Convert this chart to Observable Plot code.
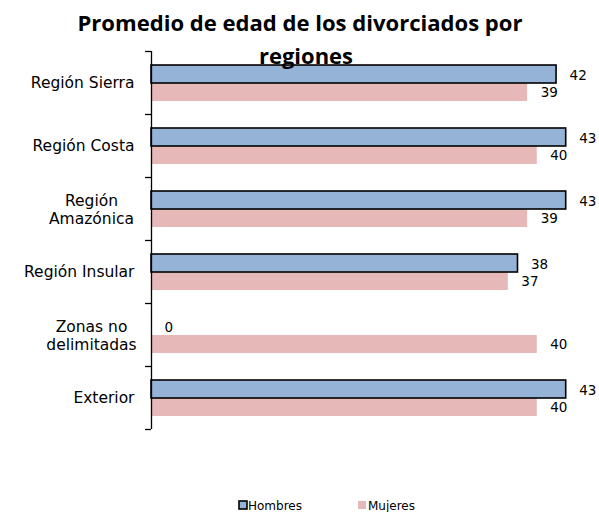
<!DOCTYPE html>
<html>
<head>
<meta charset="utf-8">
<script src="https://cdn.jsdelivr.net/npm/d3@7"></script>
<script src="https://cdn.jsdelivr.net/npm/@observablehq/plot@0.6"></script>
<style>
  html, body { margin: 0; padding: 0; background: #fff; }
  #chart { width: 599px; height: 512px; }
</style>
</head>
<body>
<div id="chart"></div>
<script>
const titleLines = ["Promedio de edad de los divorciados por", "regiones"];
const categories = ["Región Sierra", "Región Costa", "Región\nAmazónica", "Región Insular", "Zonas no\ndelimitadas", "Exterior"];
const seriesNames = ["Hombres", "Mujeres"];
const hombres = [42, 43, 43, 38, 0, 43];
const mujeres = [39, 40, 39, 37, 40, 40];
const colors = ["#95B3D7", "#E6B9B8"];

const rowsH = categories.map((c, i) => ({cat: c, serie: seriesNames[0], value: hombres[i]}));
const rowsM = categories.map((c, i) => ({cat: c, serie: seriesNames[1], value: mujeres[i]}));
const singleCats = categories.filter(c => !c.includes("\n"));
const multiCats = categories.filter(c => c.includes("\n"));
const half = 31.5;

const chart = Plot.plot({
  width: 599,
  height: 512,
  marginLeft: 151,
  marginRight: 14,
  marginTop: 51,
  marginBottom: 83,
  style: {fontFamily: "DejaVu Sans", background: "#fff", color: "#000"},
  x: {domain: [0, 45], axis: null},
  y: {domain: categories, padding: 0, axis: null},
  marks: [
    Plot.barX(rowsM, {y: "cat", x: "value", fill: colors[1], insetTop: 32, insetBottom: 13}),
    Plot.barX(rowsH.filter(d => d.value > 0), {y: "cat", x: "value", fill: colors[0], stroke: "#000", strokeWidth: 1.6, insetTop: 14, insetBottom: 31}),
    Plot.text(rowsH, {y: "cat", x: "value", text: d => String(d.value), dx: 13, dy: -7.5, textAnchor: "start", fontSize: 13.5, fill: "#000"}),
    Plot.text(rowsM, {y: "cat", x: "value", text: d => String(d.value), dx: 13, dy: 9.5, textAnchor: "start", fontSize: 13.5, fill: "#000"}),
    Plot.ruleX([0], {stroke: "#000", strokeWidth: 1.3}),
    Plot.ruleY(categories, {y: d => d, x1: 0, x2: 0, insetLeft: -6, dy: -half, stroke: "#000", strokeWidth: 1.3}),
    Plot.ruleY([categories[categories.length - 1]], {y: d => d, x1: 0, x2: 0, insetLeft: -6, dy: half, stroke: "#000", strokeWidth: 1.3}),
    Plot.text(singleCats, {y: d => d, text: d => d, frameAnchor: "left", dx: -17, textAnchor: "end", fontSize: 15.5, fill: "#000"}),
    Plot.text(multiCats, {y: d => d, text: d => d, frameAnchor: "left", dx: -60, textAnchor: "middle", lineHeight: 1.2, fontSize: 15.5, fill: "#000"})
  ]
});

document.getElementById("chart").appendChild(chart);

const svg = d3.select(chart);
// Title
svg.append("text")
  .attr("x", 300).attr("y", 31)
  .attr("text-anchor", "middle")
  .attr("font-family", "Open Sans").attr("font-weight", "bold").attr("font-size", 20.5)
  .attr("textLength", 445).attr("lengthAdjust", "spacingAndGlyphs")
  .attr("fill", "#000")
  .text(titleLines[0]);
svg.append("text")
  .attr("x", 306).attr("y", 64)
  .attr("text-anchor", "middle")
  .attr("font-family", "Open Sans").attr("font-weight", "bold").attr("font-size", 20.5)
  .attr("textLength", 94).attr("lengthAdjust", "spacingAndGlyphs")
  .attr("fill", "#000")
  .text(titleLines[1]);

// Legend
const legendPos = [{sx: 239, tx: 248}, {sx: 358, tx: 368}];
seriesNames.forEach((name, i) => {
  const g = svg.append("g");
  g.append("rect")
    .attr("x", legendPos[i].sx).attr("y", 501)
    .attr("width", 8).attr("height", 8)
    .attr("fill", colors[i])
    .attr("stroke", i === 0 ? "#000" : "none")
    .attr("stroke-width", i === 0 ? 1.6 : 0);
  g.append("text")
    .attr("x", legendPos[i].tx).attr("y", 509.5)
    .attr("text-anchor", "start")
    .attr("font-family", "DejaVu Sans").attr("font-size", 12)
    .attr("fill", "#000")
    .text(name);
});
</script>
</body>
</html>
